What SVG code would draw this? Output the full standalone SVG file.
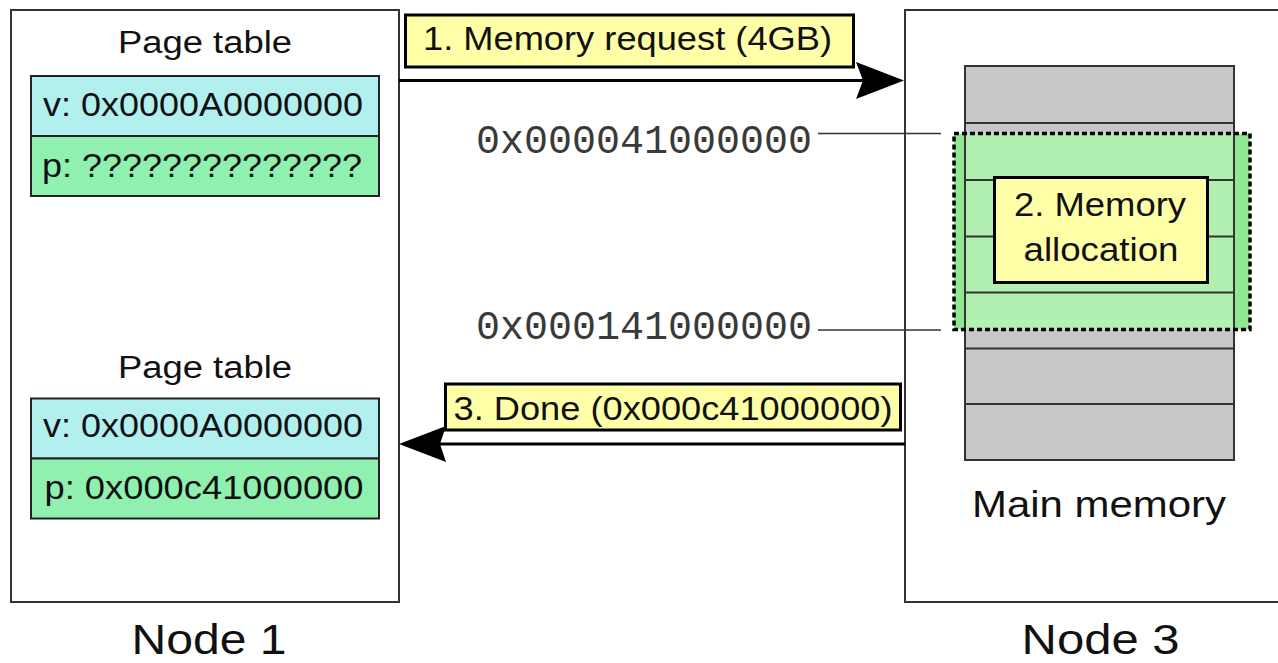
<svg xmlns="http://www.w3.org/2000/svg" width="1278" height="663" viewBox="0 0 1278 663">
  <style>
    .sans { font-family: "Liberation Sans", Arial, sans-serif; fill: #111; }
    .mono { font-family: "Liberation Mono", "Courier New", monospace; fill: #3a3a3a; }
    .box { fill: #fff; stroke: #333; stroke-width: 2; }
    .virt { fill: #b2f0f0; stroke: #222; stroke-width: 2; }
    .phys { fill: #90f0b0; stroke: #222; stroke-width: 2; }
    .cell { fill: #c8c8c8; stroke: #333; stroke-width: 2; }
    .rule { stroke: #333; stroke-width: 2; fill: none; }
    .label { fill: #ffffa8; stroke: #000; stroke-width: 3; }
    .wire { stroke: #000; stroke-width: 3; fill: none; }
    .lead { stroke: #333; stroke-width: 1.6; fill: none; }
  </style>

  <!-- Node 1: requesting node with its page table before and after -->
  <g id="node1">
    <rect class="box" x="11" y="10" width="388" height="592"/>
    <text class="sans" x="118" y="52.5" font-size="31" textLength="174" lengthAdjust="spacingAndGlyphs">Page table</text>
    <rect class="virt" x="31" y="76" width="348" height="60"/>
    <rect class="phys" x="31" y="136" width="348" height="60"/>
    <text class="sans" x="43" y="116" font-size="33" textLength="320" lengthAdjust="spacingAndGlyphs">v: 0x0000A0000000</text>
    <text class="sans" x="42" y="177" font-size="33" textLength="320" lengthAdjust="spacingAndGlyphs">p: ??????????????</text>

    <text class="sans" x="118" y="378" font-size="31" textLength="174" lengthAdjust="spacingAndGlyphs">Page table</text>
    <rect class="virt" x="31" y="398.5" width="348" height="60"/>
    <rect class="phys" x="31" y="458.5" width="348" height="60"/>
    <text class="sans" x="43" y="437" font-size="33" textLength="320" lengthAdjust="spacingAndGlyphs">v: 0x0000A0000000</text>
    <text class="sans" x="44.5" y="498.5" font-size="33" textLength="319" lengthAdjust="spacingAndGlyphs">p: 0x000c41000000</text>

    <text class="sans" x="131.5" y="654" font-size="43" textLength="155" lengthAdjust="spacingAndGlyphs">Node 1</text>
  </g>

  <!-- Node 3: home node holding the main memory -->
  <g id="node3">
    <rect class="box" x="905" y="10" width="400" height="592"/>

    <!-- memory column: seven cells, 56.3px each -->
    <rect class="cell" x="965" y="66" width="269" height="394"/>
    <!-- allocated region -->
    <rect x="954" y="133.5" width="296" height="196" fill="#92e892"/>
    <rect x="965" y="133.5" width="269" height="196" fill="#b2f0b2"/>
    <g class="rule">
      <line x1="965" y1="123" x2="1234" y2="123"/>
      <line x1="965" y1="180" x2="1234" y2="180"/>
      <line x1="965" y1="236.5" x2="1234" y2="236.5"/>
      <line x1="965" y1="292.5" x2="1234" y2="292.5"/>
      <line x1="965" y1="348.5" x2="1234" y2="348.5"/>
      <line x1="965" y1="404" x2="1234" y2="404"/>
      <line x1="965" y1="66" x2="965" y2="460"/>
      <line x1="1234" y1="66" x2="1234" y2="460"/>
    </g>
    <rect x="954" y="133.5" width="296" height="196" fill="none" stroke="#000" stroke-width="3.5" stroke-dasharray="5,3"/>

    <text class="sans" x="972" y="517" font-size="37" textLength="254" lengthAdjust="spacingAndGlyphs">Main memory</text>
    <text class="sans" x="1021.5" y="654" font-size="43" textLength="158" lengthAdjust="spacingAndGlyphs">Node 3</text>
  </g>

  <!-- step 2 label on the allocated region -->
  <g id="step2">
    <rect class="label" x="994.5" y="177.5" width="213" height="105"/>
    <text class="sans" x="1014" y="215.5" font-size="34" textLength="172" lengthAdjust="spacingAndGlyphs">2. Memory</text>
    <text class="sans" x="1023.5" y="260.5" font-size="34" textLength="155" lengthAdjust="spacingAndGlyphs">allocation</text>
  </g>

  <!-- address markers for the allocated range -->
  <g id="addresses">
    <text class="mono" x="476" y="153" font-size="40" textLength="336" lengthAdjust="spacingAndGlyphs">0x000041000000</text>
    <text class="mono" x="476" y="339" font-size="40" textLength="336" lengthAdjust="spacingAndGlyphs">0x000141000000</text>
  </g>

  <!-- messages between the nodes -->
  <g id="connectors">
    <line class="lead" x1="818" y1="133.5" x2="941" y2="133.5"/>
    <line class="lead" x1="818" y1="330" x2="941" y2="330"/>

    <line class="wire" x1="399" y1="80.5" x2="864" y2="80.5"/>
    <path d="M904,80.5 L856,62 L863,80.5 L856,99 Z" fill="#000"/>
    <rect class="label" x="405.5" y="15" width="448" height="52"/>
    <text class="sans" x="423" y="49.5" font-size="33" textLength="409" lengthAdjust="spacingAndGlyphs">1. Memory request (4GB)</text>

    <line class="wire" x1="905" y1="444" x2="440" y2="444"/>
    <path d="M399,444 L446,426 L440,444 L446,462 Z" fill="#000"/>
    <rect class="label" x="445.5" y="384" width="455" height="46"/>
    <text class="sans" x="453.5" y="420" font-size="33" textLength="439" lengthAdjust="spacingAndGlyphs">3. Done (0x000c41000000)</text>
  </g>
</svg>
